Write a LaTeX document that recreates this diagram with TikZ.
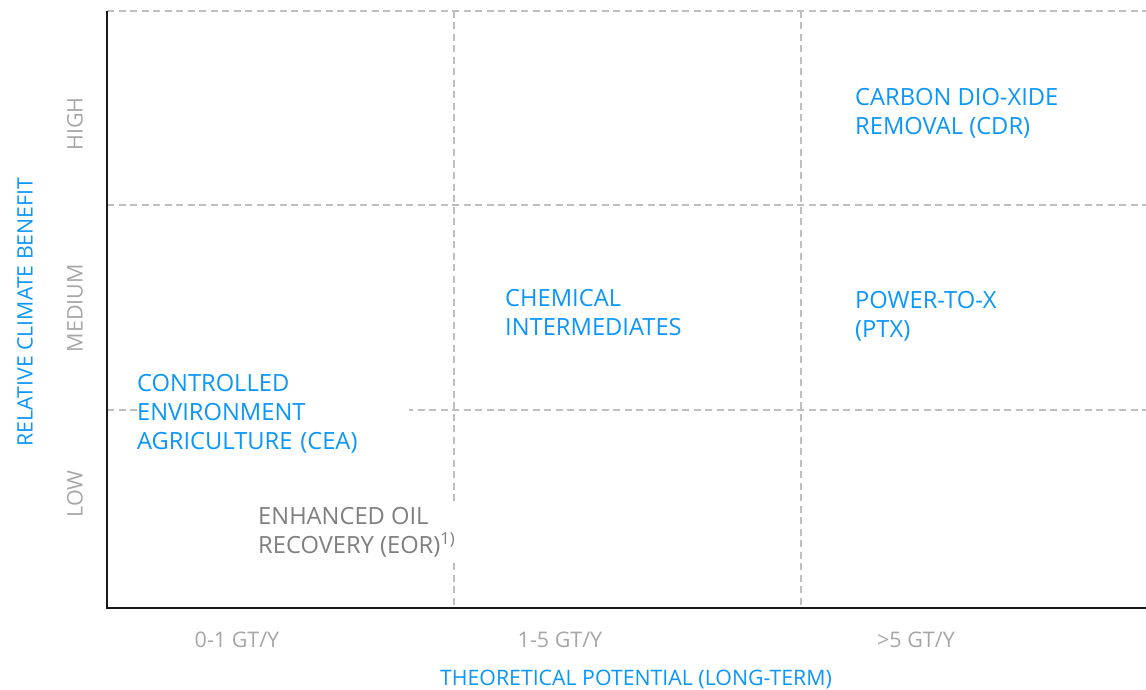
\documentclass[tikz,border=0pt]{standalone}
\usepackage{fontspec}
\setmainfont{Open Sans}
\definecolor{cblue}{HTML}{0A96FA}
\definecolor{tickgray}{HTML}{A6A6A6}
\definecolor{eorgray}{HTML}{7F7F7F}
\definecolor{gridgray}{HTML}{BFBFBF}
\tikzset{
  gridline/.style={draw=gridgray, line width=1.6pt, dash pattern=on 7pt off 4.5pt},
  axisline/.style={draw=black!90, line width=1.8pt},
  mainlbl/.style={text=cblue, align=left, inner sep=0pt, anchor=north west, font=\fontsize{23.7}{29}\selectfont},
  eorlbl/.style={text=eorgray, align=left, anchor=north west, fill=white, inner xsep=3pt, inner ysep=6pt, font=\fontsize{23.7}{29}\selectfont},
  ticklbl/.style={text=tickgray, inner sep=0pt, font=\fontsize{21.5}{25}\selectfont},
  axistitle/.style={text=cblue, inner sep=0pt, font=\fontsize{21.3}{25}\selectfont}
}
\begin{document}
\begin{tikzpicture}[x=1pt,y=-1pt]
\useasboundingbox (0,0) rectangle (1146,690);
% grid
\draw[gridline] (107,11) -- (1146,11);
\draw[gridline] (107,205) -- (1146,205);
\draw[gridline] (107,410) -- (1146,410);
\draw[gridline] (454,11) -- (454,608);
\draw[gridline] (801,11) -- (801,608);
% axes
\coordinate (ytop) at (107,11);
\coordinate (origin) at (107,608);
\coordinate (xend) at (1146,608);
\draw[axisline] (ytop) -- (origin) -- (xend);
% labels
\node[mainlbl] (cdr) at (855,88) {CARBON DIO-XIDE\\REMOVAL (CDR)};
\node[mainlbl] (ptx) at (855,291) {POWER-TO-X\\(PTX)};
\node[mainlbl] (chem) at (505,289) {CHEMICAL\\INTERMEDIATES};
\node[mainlbl, fill=white, text width=272pt] (cea) at (137,374) {CONTROLLED\\ENVIRONMENT\\AGRICULTURE (CEA)};
\node[eorlbl] (eor) at (255,501) {ENHANCED OIL\\RECOVERY (EOR)\textsuperscript{1)}};
% ticks
\node[ticklbl] (t1) at (237,640) {0-1 GT/Y};
\node[ticklbl] (t2) at (560,640) {1-5 GT/Y};
\node[ticklbl] (t3) at (916,640) {>5 GT/Y};
\node[axistitle] (xt) at (636,679) {THEORETICAL POTENTIAL (LONG-TERM)};
\node[ticklbl, rotate=90] (high) at (75,124) {HIGH};
\node[ticklbl, rotate=90] (med) at (75,308) {MEDIUM};
\node[ticklbl, rotate=90] (low) at (75,494) {LOW};
\node[axistitle, rotate=90] (yt) at (25,312) {RELATIVE CLIMATE BENEFIT};
\end{tikzpicture}
\end{document}
